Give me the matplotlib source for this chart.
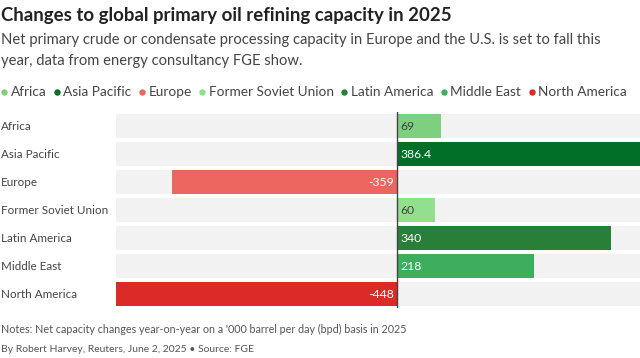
import matplotlib
matplotlib.use("Agg")
import matplotlib.pyplot as plt
import matplotlib.transforms as mtransforms
from matplotlib.lines import Line2D

regions = ["Africa", "Asia Pacific", "Europe", "Former Soviet Union",
           "Latin America", "Middle East", "North America"]
values = [69, 386.4, -359, 60, 340, 218, -448]
labels = ["69", "386.4", "-359", "60", "340", "218", "-448"]
colors = ["#7fcf80", "#006f28", "#ec6660", "#92e08f", "#2a7f38", "#3cae5e", "#dc2a27"]
label_colors = ["#444444", "white", "white", "#444444", "white", "white", "white"]

FONT = "Lato"
W, H = 640, 358
fig = plt.figure(figsize=(W / 100, H / 100), dpi=100)

def fx(px):
    return px / W

def fy(py):
    return 1 - py / H

fig.text(fx(1), fy(15), "Changes to global primary oil refining capacity in 2025",
         fontsize=13.4, fontweight="bold", family=FONT, color="#222222", va="center")
fig.text(fx(1), fy(40), "Net primary crude or condensate processing capacity in Europe and the U.S. is set to fall this",
         fontsize=10.6, family=FONT, color="#444444", va="center")
fig.text(fx(1), fy(61), "year, data from energy consultancy FGE show.",
         fontsize=10.6, family=FONT, color="#444444", va="center")

# legend
x = 4.0
fig.canvas.draw()
for r, c in zip(regions, colors):
    fig.add_artist(Line2D([fx(x)], [fy(92)], marker="o", markersize=4.6, color=c,
                          markeredgewidth=0, linestyle="none", transform=fig.transFigure))
    t = fig.text(fx(x + 6.5), fy(92), r, fontsize=9.8, family=FONT, color="#444444", va="center")
    fig.canvas.draw()
    bb = t.get_window_extent()
    x = bb.x1 + 10.5

ax_left, ax_right = 116, 640
ax_top, ax_bot = 112, 308
ax = fig.add_axes([fx(ax_left), fy(ax_bot), (ax_right - ax_left) / W, (ax_bot - ax_top) / H])
xmin, xmax = -448, 386.4
ax.set_xlim(xmin, xmax)
n = len(regions)
ax.set_ylim(n - 0.5, -0.5)
ypos = list(range(n))
bh = 0.86
ax.barh(ypos, [xmax - xmin] * n, left=xmin, height=bh, color="#f2f2f2", zorder=0)
ax.barh(ypos, values, height=bh, color=colors, zorder=1)
ax.axvline(0, color="#444444", lw=1, zorder=3)
for y, v, lab, lc in zip(ypos, values, labels, label_colors):
    if v >= 0:
        ax.text(5, y, lab, ha="left", va="center", fontsize=8.8, family=FONT, color=lc, zorder=4)
    else:
        ax.text(-5, y, lab, ha="right", va="center", fontsize=8.8, family=FONT, color=lc, zorder=4)

trans = mtransforms.blended_transform_factory(fig.transFigure, ax.transData)
for y, r in zip(ypos, regions):
    ax.text(fx(1), y, r, transform=trans, ha="left", va="center", fontsize=8.4,
            family=FONT, color="#444444", clip_on=False)
ax.set_yticks([])
ax.set_xticks([])
for s in ax.spines.values():
    s.set_visible(False)

fig.text(fx(1), fy(329), "Notes: Net capacity changes year-on-year on a '000 barrel per day (bpd) basis in 2025",
         fontsize=7.75, family=FONT, color="#555555", va="center")
fig.text(fx(1), fy(349), "By Robert Harvey, Reuters, June 2, 2025 \u2022 Source: FGE",
         fontsize=7.5, family=FONT, color="#555555", va="center")

fig.savefig("out.png", dpi=100)
